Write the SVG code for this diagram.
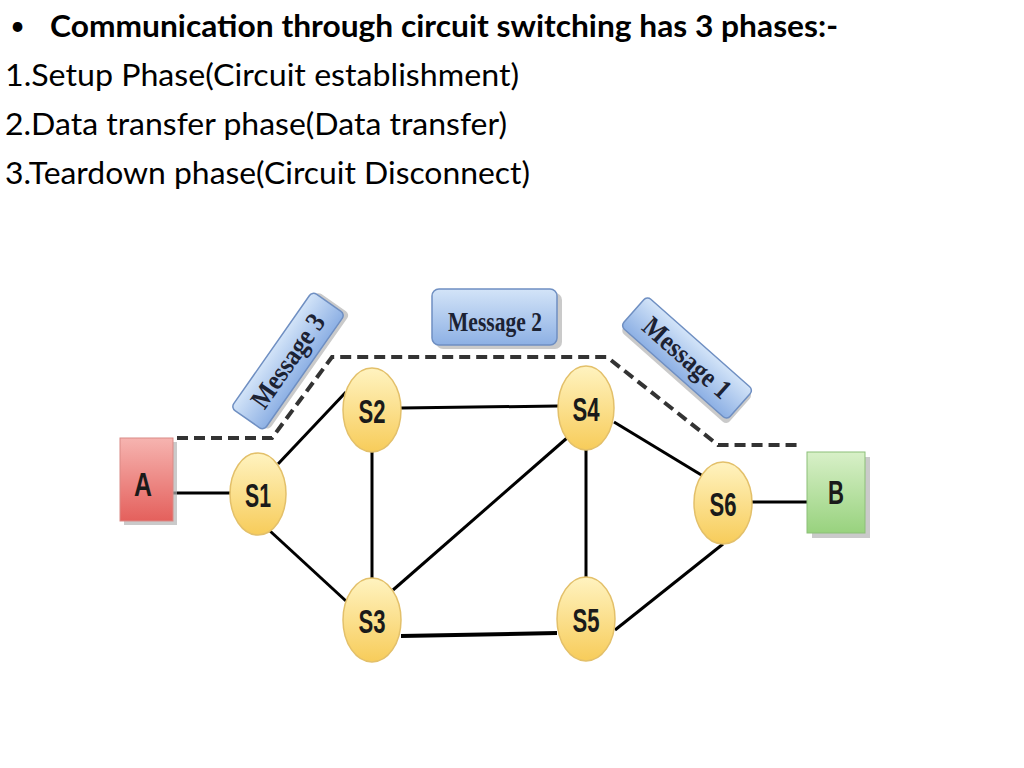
<svg xmlns="http://www.w3.org/2000/svg" width="1024" height="768" viewBox="0 0 1024 768">
<defs>
<linearGradient id="gy" x1="0" y1="0" x2="0" y2="1"><stop offset="0" stop-color="#fff3c0"/><stop offset="1" stop-color="#f7cc5a"/></linearGradient>
<linearGradient id="gr" x1="0" y1="0" x2="0" y2="1"><stop offset="0" stop-color="#f6b4b0"/><stop offset="1" stop-color="#e4605c"/></linearGradient>
<linearGradient id="gg" x1="0" y1="0" x2="0" y2="1"><stop offset="0" stop-color="#d8f0c8"/><stop offset="1" stop-color="#98d27e"/></linearGradient>
<linearGradient id="gb" x1="0" y1="0" x2="0" y2="1"><stop offset="0" stop-color="#d3e4f8"/><stop offset="1" stop-color="#8db0e4"/></linearGradient>
<style>
.hd{font-family:Lato,"Open Sans",sans-serif;font-size:30px;fill:#000}
.b{font-weight:bold}
.sw{fill:url(#gy);stroke:#e3c06a;stroke-width:1.5}
.sl{font-family:"Liberation Sans",Arial,sans-serif;font-weight:bold;font-size:34px;fill:#1a1a1a;text-anchor:middle}
.ml{font-family:"Liberation Serif","Times New Roman",serif;font-weight:bold;font-size:28px;fill:#1c2233;text-anchor:middle}
.mb{fill:url(#gb);stroke:#6f8fc2;stroke-width:1.5}
.sh{fill:#b4b4b4;opacity:0.7}
.ln{stroke:#000;stroke-width:3;fill:none}
.ds{stroke:#333;stroke-width:4;fill:none;stroke-dasharray:11 6}
</style>
</defs>
<rect width="1024" height="768" fill="#fff"/>
<g id="header">
<text class="hd" x="10" y="35" style="font-size:26px">•</text>
<text class="hd b" x="50" y="37" textLength="788" lengthAdjust="spacingAndGlyphs">Communication through circuit switching has 3 phases:-</text>
<text class="hd" x="5" y="86" textLength="514" lengthAdjust="spacingAndGlyphs">1.Setup Phase(Circuit establishment)</text>
<text class="hd" x="5" y="135" textLength="502" lengthAdjust="spacingAndGlyphs">2.Data transfer phase(Data transfer)</text>
<text class="hd" x="5" y="184" textLength="525" lengthAdjust="spacingAndGlyphs">3.Teardown phase(Circuit Disconnect)</text>
</g>
<g id="connectors">
<line class="ln" x1="173" y1="493" x2="231" y2="493"/>
<line class="ln" x1="278" y1="464" x2="346" y2="392"/>
<line class="ln" x1="401" y1="408" x2="558" y2="406"/>
<line class="ln" x1="372" y1="452" x2="372" y2="579"/>
<line class="ln" x1="270" y1="531" x2="346" y2="601"/>
<line class="ln" x1="393" y1="590" x2="567" y2="438"/>
<line class="ln" x1="586" y1="450" x2="586" y2="577"/>
<line class="ln" x1="614" y1="422" x2="703" y2="476"/>
<line class="ln" x1="401" y1="636" x2="557" y2="633" style="stroke-width:4"/>
<line class="ln" x1="615" y1="630" x2="723" y2="544"/>
<line class="ln" x1="752" y1="502" x2="808" y2="502"/>
<polyline class="ds" points="177,438 272,438 332,357 607,357 718,445 797,445"/>
</g>
<g id="msg2">
<rect class="sh" x="436" y="293" width="126" height="56" rx="7"/>
<rect class="mb" x="432" y="289" width="125" height="56" rx="7"/>
<text class="ml" x="495" y="331" textLength="94" lengthAdjust="spacingAndGlyphs">Message 2</text>
</g>
<g id="msg1" transform="translate(687,358) rotate(41.5)">
<rect class="sh" x="-68" y="-16" width="142" height="40" rx="5"/>
<rect class="mb" x="-71" y="-20" width="142" height="40" rx="5"/>
<text class="ml" x="0" y="9" textLength="108" lengthAdjust="spacingAndGlyphs">Message 1</text>
</g>
<g id="msg3" transform="translate(288,361) rotate(-55)">
<rect class="sh" x="-68" y="-16" width="142" height="40" rx="5"/>
<rect class="mb" x="-71" y="-20" width="142" height="40" rx="5"/>
<text class="ml" x="0" y="9" textLength="108" lengthAdjust="spacingAndGlyphs">Message 3</text>
</g>
<g id="A">
<rect class="sh" x="124" y="442" width="53" height="83"/>
<rect x="120" y="438" width="53" height="83" fill="url(#gr)" stroke="#d98a86" stroke-width="1"/>
<text class="sl" x="143" y="496" textLength="18" lengthAdjust="spacingAndGlyphs">A</text>
</g>
<g id="B">
<rect class="sh" x="812" y="457" width="58" height="81"/>
<rect x="807" y="452" width="58" height="81" fill="url(#gg)" stroke="#8cbf78" stroke-width="1"/>
<text class="sl" x="836" y="504" textLength="16" lengthAdjust="spacingAndGlyphs">B</text>
</g>
<g id="S1"><ellipse class="sw" cx="258" cy="494" rx="28" ry="41"/><text class="sl" x="258" y="507" textLength="26" lengthAdjust="spacingAndGlyphs">S1</text></g>
<g id="S2"><ellipse class="sw" cx="372" cy="410" rx="29" ry="42"/><text class="sl" x="372" y="423" textLength="27" lengthAdjust="spacingAndGlyphs">S2</text></g>
<g id="S3"><ellipse class="sw" cx="372" cy="620" rx="29" ry="42"/><text class="sl" x="372" y="633" textLength="27" lengthAdjust="spacingAndGlyphs">S3</text></g>
<g id="S4"><ellipse class="sw" cx="586" cy="408" rx="28" ry="42"/><text class="sl" x="586" y="421" textLength="27" lengthAdjust="spacingAndGlyphs">S4</text></g>
<g id="S5"><ellipse class="sw" cx="586" cy="619" rx="29" ry="42"/><text class="sl" x="586" y="632" textLength="27" lengthAdjust="spacingAndGlyphs">S5</text></g>
<g id="S6"><ellipse class="sw" cx="723" cy="503" rx="29" ry="41"/><text class="sl" x="723" y="516" textLength="27" lengthAdjust="spacingAndGlyphs">S6</text></g>
</svg>
